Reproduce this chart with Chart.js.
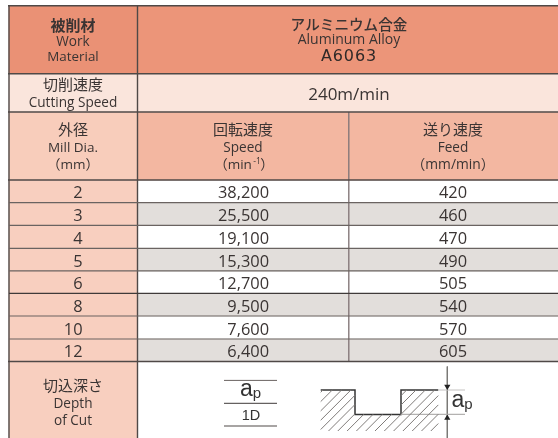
<!DOCTYPE html>
<html><head><meta charset="utf-8">
<style>html,body{margin:0;padding:0;background:#fff}canvas{display:block}</style>
<script src="https://cdn.jsdelivr.net/npm/chart.js@4"></script>
</head><body><canvas id="c" width="558" height="438"></canvas>
<script>
// --- table content ---
const millDia = [2, 3, 4, 5, 6, 8, 10, 12];
const speedRpm = [38200, 25500, 19100, 15300, 12700, 9500, 7600, 6400];
const feedRate = [420, 460, 470, 490, 505, 540, 570, 605];
const materialLabels = ['アルミニウム合金', 'Aluminum Alloy', 'A6063'];
const rowHeadMaterial = ['被削材', 'Work', 'Material'];
const rowHeadSpeed = ['切削速度', 'Cutting Speed'];
const cuttingSpeed = '240m/min';
const headDia = ['外径', 'Mill Dia.', '（mm）'];
const headSpeed = ['回転速度', 'Speed'];
const headFeed = ['送り速度', 'Feed', '（mm/min）'];
const rowHeadDepth = ['切込深さ', 'Depth', 'of Cut'];
const depthValues = ['1D'];

// --- layout, in canvas units ---
const X = {l: 9, a: 137.5, b: 348.8, r: 558};
const Y = {top: 5.7, h1: 73.7, h2: 112, h3: 180, rows: [202.7, 225.4, 248.3, 270.8, 293.4, 316, 339, 361.5], bottom: 438};
const COL = {hot: '#EA9175', hot2: '#EC9579', pale: '#FAE5DC', mid: '#F8CDBB', salmon: '#F3B7A1', row: '#F8CFBF', grey: '#E2DEDB', line: '#4F4947', text: '#3A3433'};

function cell(x0, x1, y0, y1, color) {
  return {type: 'bar', grouped: false, order: 5, barThickness: x1 - x0, backgroundColor: color, borderWidth: 0,
          data: [{x: (x0 + x1) / 2, y: [y0, y1]}]};
}
function rule(points, color, width) {
  return {type: 'line', order: 1, data: points.map(p => ({x: p[0], y: p[1]})), borderColor: color, borderWidth: width,
          pointRadius: 0, fill: false, tension: 0, spanGaps: false};
}
function hatch() {
  const rects = [[320.7, 355, 390, 431], [355, 401, 414.3, 431], [401, 438.3, 390, 431]];
  const pts = [];
  for (let c = 713; c < 870; c += 9.3) {
    rects.forEach(r => {
      const a = Math.max(r[0], c - r[3]), b = Math.min(r[1], c - r[2]);
      if (b > a) { pts.push([a, c - a], [b, c - b], [NaN, NaN]); }
    });
  }
  return rule(pts, '#7F7B79', 1);
}

const datasets = [];
datasets.push(cell(X.l, X.a, Y.top, Y.h1, COL.hot));
datasets.push(cell(X.a, X.r, Y.top, Y.h1, COL.hot2));
datasets.push(cell(X.l, X.r, Y.h1, Y.h2, COL.pale));
datasets.push(cell(X.l, X.a, Y.h2, Y.h3, COL.mid));
datasets.push(cell(X.a, X.r, Y.h2, Y.h3, COL.salmon));
millDia.forEach((d, i) => {
  const y0 = i ? Y.rows[i - 1] : Y.h3, y1 = Y.rows[i];
  datasets.push(cell(X.l, X.a, y0, y1, COL.row));
  if (i % 2) datasets.push(cell(X.a, X.r, y0, y1, COL.grey));
});
datasets.push(cell(X.l, X.a, Y.rows[7], Y.bottom, COL.row));

// rules
[Y.top, Y.h1, Y.h2, Y.h3, Y.rows[7]].forEach(y => datasets.push(rule([[X.l - 1, y], [X.r, y]], COL.line, 1.4)));
Y.rows.slice(0, 7).forEach((y, i) => datasets.push(rule([[X.l, y], [X.r, y]], i === 4 ? '#3F3A39' : '#6A6361', 1.2)));
datasets.push(rule([[X.l, Y.top], [X.l, Y.bottom]], COL.line, 1.4));
datasets.push(rule([[X.a, Y.top], [X.a, Y.bottom]], COL.line, 1.4));
datasets.push(rule([[X.b, Y.h2], [X.b, Y.rows[7]]], '#85797A', 1.4));

// depth-of-cut fraction rules
datasets.push(rule([[224, 380.4], [277, 380.4]], '#6A6361', 1));
datasets.push(rule([[224, 403.3], [277, 403.3]], '#3F3A39', 1));
datasets.push(rule([[224, 426], [277, 426]], '#8A8685', 1.4));

// groove drawing
datasets.push(hatch());
datasets.push(rule([[438.3, 390], [465, 390]], '#C4C2C1', 1));
datasets.push(rule([[401, 414.4], [465, 414.4]], '#B4B2B1', 1.2));
datasets.push(rule([[320.7, 390], [355, 390], [355, 414.4], [401, 414.4], [401, 390], [438.3, 390]], '#333', 1.5));
datasets.push(rule([[447.3, 366.5], [447.3, 438]], '#7A7776', 1));
datasets.push({type: 'line', order: 0, showLine: false, data: [{x: 447.3, y: 386.5}], pointStyle: 'triangle', pointRotation: 180,
  pointRadius: 3.6, backgroundColor: '#222', borderColor: '#222', borderWidth: 0});
datasets.push({type: 'line', order: 0, showLine: false, data: [{x: 447.3, y: 418}], pointStyle: 'triangle', pointRotation: 0,
  pointRadius: 3.6, backgroundColor: '#222', borderColor: '#222', borderWidth: 0});

const LAT = '"Open Sans","Noto Sans CJK JP",sans-serif';
const CJK = '"Noto Sans CJK JP",sans-serif';
const labelPlugin = {
  id: 'tableText',
  afterDatasetsDraw(chart) {
    const c = chart.ctx, sx = chart.scales.x, sy = chart.scales.y;
    const put = (t, x, y, size, font, weight, color, spacing, align) => {
      c.font = (weight || '400') + ' ' + size + 'px ' + (font || LAT);
      c.fillStyle = color || COL.text;
      c.letterSpacing = spacing || '0px';
      c.textAlign = align || 'center';
      c.textBaseline = 'middle';
      c.fillText(t, sx.getPixelForValue(x), sy.getPixelForValue(y));
    };
    const xA = 73, xB = 243, xC = 453, xM = 349;
    put(rowHeadMaterial[0], xA, 25, 15, CJK, '700');
    put(rowHeadMaterial[1], xA, 42.5, 13.6);
    put(rowHeadMaterial[2], xA, 57.5, 13.4);
    put(materialLabels[0], xM, 24, 14.6, CJK, '500');
    put(materialLabels[1], xM, 40.5, 14);
    put(materialLabels[2], xM, 57, 16, '"DejaVu Sans"', '500', '#2E2928', '0.9px');
    put(rowHeadSpeed[0], xA, 84.5, 15, CJK);
    put(rowHeadSpeed[1], xA, 103, 13.6);
    put(cuttingSpeed, xM, 95, 17);
    put(headDia[0], xA, 129.5, 15, CJK);
    put(headDia[1], xA, 148.5, 13.5);
    put(headDia[2], xA, 165, 13.5);
    put(headSpeed[0], xB, 129.5, 15, CJK);
    put(headSpeed[1], xB, 148.5, 13.6);
    // （min-1） with a raised exponent
    put('（min', xB - 10, 165, 13.5);
    put('-1', xB + 14, 162, 8.5);
    put('）', xB + 24, 165, 13.5);
    put(headFeed[0], xC, 129.5, 15, CJK);
    put(headFeed[1], xC, 148.5, 13.6);
    put(headFeed[2], xC, 165, 13.8);
    millDia.forEach((d, i) => {
      const y0 = i ? Y.rows[i - 1] : Y.h3, y = (y0 + Y.rows[i]) / 2 + 2.4;
      put(String(d), 82.5, y, 16.4, null, null, null, null, 'right');
      put(speedRpm[i].toLocaleString('en-US'), 269, y, 16.4, null, null, null, null, 'right');
      put(String(feedRate[i]), xC, y, 16.4);
    });
    put(rowHeadDepth[0], xA, 385, 15, CJK);
    put(rowHeadDepth[1], xA, 404, 13.6);
    put(rowHeadDepth[2], xA, 421, 13.6);
    // ap in the fraction and in the drawing
    put('a', 246.5, 390, 23, '"Liberation Sans"', '400', '#333');
    put('p', 257, 393.5, 15, '"Liberation Sans"', '400', '#333');
    put(depthValues[0], 251, 415.5, 14.5, '"Liberation Sans"', '400', '#333');
    put('a', 458, 401, 23, '"Liberation Sans"', '400', '#333');
    put('p', 468.5, 404.5, 15, '"Liberation Sans"', '400', '#333');
  }
};

new Chart(document.getElementById('c'), {
  type: 'bar',
  data: {datasets},
  plugins: [labelPlugin],
  options: {
    responsive: false,
    animation: false,
    layout: {padding: 0, autoPadding: false},
    events: [],
    plugins: {legend: {display: false}, tooltip: {enabled: false}, title: {display: false}},
    scales: {
      x: {type: 'linear', min: 0, max: 558, display: false, offset: false, grid: {display: false}},
      y: {type: 'linear', min: 0, max: 438, reverse: true, display: false, grid: {display: false}}
    }
  }
});
</script></body></html>
